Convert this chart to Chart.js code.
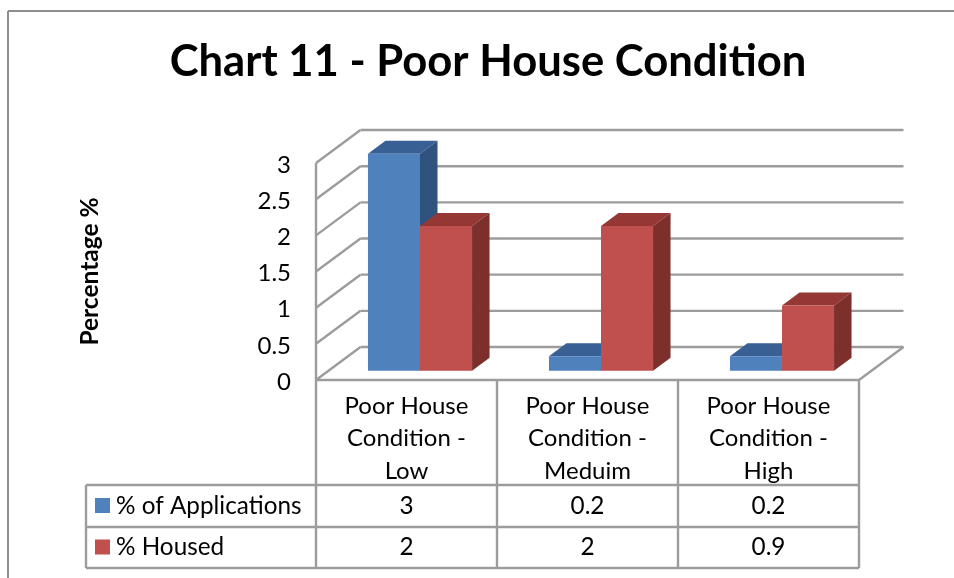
<!DOCTYPE html>
<html>
<head>
<meta charset="utf-8">
<title>Chart 11 - Poor House Condition</title>
<script src="https://cdn.jsdelivr.net/npm/chart.js@4"></script>
<style>
    html, body { margin: 0; padding: 0; background: #fff; }
    canvas { display: block; }
</style>
</head>
<body>
<canvas id="chart11" width="954" height="578"></canvas>
<script>
const titleText = 'Chart 11 - Poor House Condition';
const yAxisTitle = 'Percentage %';
const categories = [
    ['Poor House', 'Condition -', 'Low'],
    ['Poor House', 'Condition -', 'Meduim'],
    ['Poor House', 'Condition -', 'High']
];
const applications = [3, 0.2, 0.2];
const housed = [2, 2, 0.9];
const seriesNames = ['% of Applications', '% Housed'];
const yTicks = [0, 0.5, 1, 1.5, 2, 2.5, 3];

const FONT = 'Lato, Carlito, Calibri, sans-serif';
const GRID = '#9c9c9c';
const FRAME = '#8e8e8e';
const WALL = { dx: 44.5, dy: 33 };      // wall depth of the fake 3D box
const BAR_SHIFT = { dx: 13.5, dy: 9.3 }; // bars stand a bit inside the floor
const BAR_DEPTH = { dx: 17.5, dy: 13 };
const TABLE = { left: 86, row1: 485, row2: 527, bottom: 568 };

function line(ctx, x1, y1, x2, y2) {
    ctx.beginPath();
    ctx.moveTo(x1, y1);
    ctx.lineTo(x2, y2);
    ctx.stroke();
}

function poly(ctx, pts, color) {
    ctx.fillStyle = color;
    ctx.beginPath();
    pts.forEach((p, i) => i ? ctx.lineTo(p[0], p[1]) : ctx.moveTo(p[0], p[1]));
    ctx.closePath();
    ctx.fill();
}

const box3d = {
    id: 'box3d',
    afterLayout(chart) {
        // title is centred on the page area, not the plot
        chart.titleBlock.left += 109;
    },
    beforeDatasetsDraw(chart) {
        const ctx = chart.ctx;
        const { left, right, top, bottom } = chart.chartArea;
        const y = chart.scales.y;
        ctx.save();
        ctx.strokeStyle = GRID;
        ctx.lineWidth = 2.4;
        yTicks.forEach(t => {
            const py = y.getPixelForValue(t);
            line(ctx, left, py, left + WALL.dx, py - WALL.dy);
            line(ctx, left + WALL.dx, py - WALL.dy, right + WALL.dx, py - WALL.dy);
        });
        line(ctx, left, top, left, bottom);
        line(ctx, right, bottom, right + WALL.dx, bottom - WALL.dy);

        // bars: blue first so the red fronts cover the blue sides
        ctx.translate(BAR_SHIFT.dx, -BAR_SHIFT.dy);
        chart.data.datasets.forEach((ds, i) => {
            chart.getDatasetMeta(i).data.forEach(bar => {
                const r = bar.x + bar.width / 2;
                const l = bar.x - bar.width / 2;
                const d = BAR_DEPTH;
                poly(ctx, [[l, bar.y], [l + d.dx, bar.y - d.dy], [r + d.dx, bar.y - d.dy], [r, bar.y]], ds.topColor);
                poly(ctx, [[r, bar.y], [r + d.dx, bar.y - d.dy], [r + d.dx, bar.base - d.dy], [r, bar.base]], ds.sideColor);
                bar.draw(ctx);
            });
        });
        ctx.restore();
        return false;
    },
    afterDraw(chart) {
        const ctx = chart.ctx;
        const { left, right, bottom } = chart.chartArea;
        const x = chart.scales.x;
        const edges = [left, x.getPixelForValue(0) + x.width / 6, x.getPixelForValue(1) + x.width / 6, right];
        ctx.save();

        // page frame
        ctx.strokeStyle = FRAME;
        ctx.lineWidth = 2;
        line(ctx, 8, 578, 8, 11);
        line(ctx, 8, 11, 954, 11);

        // data table
        ctx.strokeStyle = GRID;
        ctx.lineWidth = 2.4;
        line(ctx, left, bottom, right, bottom);
        edges.forEach(ex => line(ctx, ex, bottom, ex, TABLE.bottom));
        [TABLE.row1, TABLE.row2, TABLE.bottom].forEach(ry => line(ctx, TABLE.left, ry, right, ry));
        line(ctx, TABLE.left, TABLE.row1, TABLE.left, TABLE.bottom);

        ctx.font = '24.3px ' + FONT;
        ctx.textBaseline = 'middle';
        [[TABLE.row1, TABLE.row2], [TABLE.row2, TABLE.bottom]].forEach((row, i) => {
            const ds = chart.data.datasets[i];
            const cy = (row[0] + row[1]) / 2;
            ctx.fillStyle = ds.backgroundColor;
            ctx.fillRect(95, cy - 8, 15, 15);
            ctx.fillStyle = '#000';
            ctx.textAlign = 'left';
            ctx.fillText(seriesNames[i], 116, cy);
            ctx.textAlign = 'center';
            ds.data.forEach((v, j) => ctx.fillText(String(v), x.getPixelForValue(j), cy));
        });
        ctx.restore();
    }
};

new Chart(document.getElementById('chart11'), {
    type: 'bar',
    plugins: [box3d],
    data: {
        labels: categories,
        datasets: [
            { label: seriesNames[0], data: applications, backgroundColor: '#4f81bd', topColor: '#386094', sideColor: '#30527f' },
            { label: seriesNames[1], data: housed, backgroundColor: '#c0504d', topColor: '#953735', sideColor: '#7d2f2c' }
        ]
    },
    options: {
        responsive: false,
        animation: false,
        events: [],
        layout: { autoPadding: false, padding: { left: 8, right: 95, top: 0, bottom: 0 } },
        datasets: { bar: { categoryPercentage: 0.575, barPercentage: 1, borderWidth: 0 } },
        plugins: {
            legend: { display: false },
            tooltip: { enabled: false },
            title: {
                display: true,
                text: titleText,
                color: '#000',
                font: { family: FONT, size: 43.6, weight: 'bold', lineHeight: 1.2 },
                padding: { top: 36, bottom: 74.7 }
            }
        },
        scales: {
            x: {
                grid: { display: false },
                border: { display: false },
                ticks: {
                    color: '#000',
                    font: { family: FONT, size: 24, lineHeight: 1.354 },
                    padding: 2,
                    maxRotation: 0,
                    autoSkip: false
                },
                afterFit(scale) { scale.height = 198; }
            },
            y: {
                min: 0,
                max: 3,
                grid: { display: false, drawTicks: false },
                border: { display: false },
                afterBuildTicks(scale) { scale.ticks = yTicks.map(v => ({ value: v })); },
                ticks: {
                    color: '#000',
                    // empty first line + 4px line height nudges the labels 2px down
                    font: { family: FONT, size: 24, lineHeight: '4px' },
                    padding: 25,
                    callback: v => ['', String(v)]
                },
                title: {
                    display: true,
                    text: yAxisTitle,
                    color: '#000',
                    font: { family: FONT, size: 24.5, weight: 'bold' },
                    padding: { top: 67, bottom: 0 }
                },
                afterFit(scale) { scale.width = 308; }
            }
        }
    }
});
</script>
</body>
</html>
